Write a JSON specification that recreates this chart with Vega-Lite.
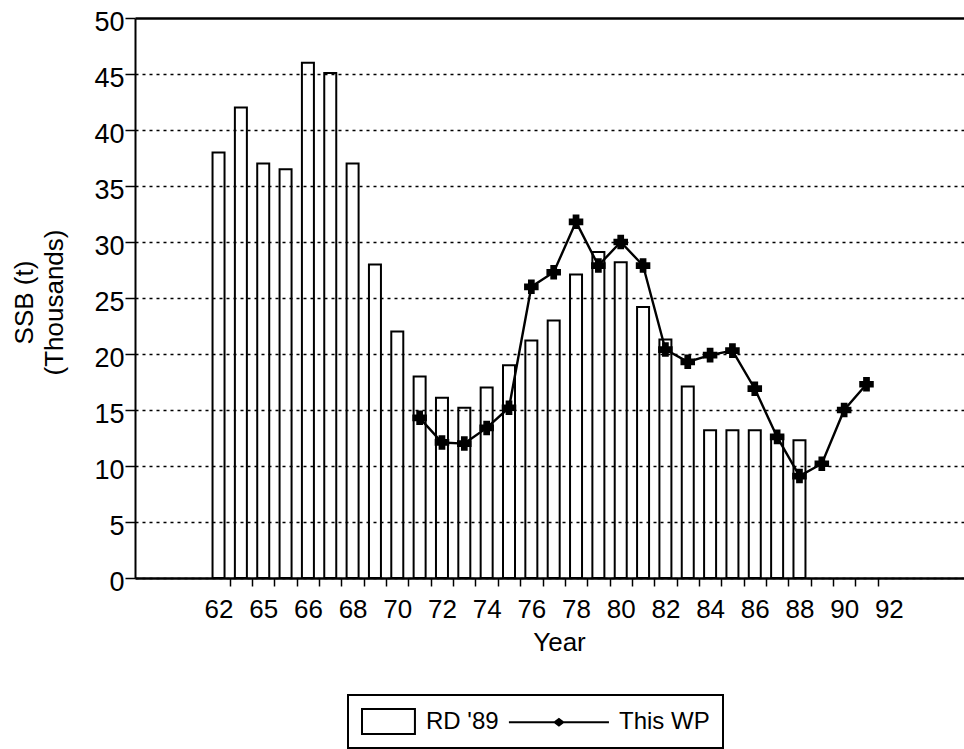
{
  "$schema": "https://vega.github.io/schema/vega-lite/v6.json",
  "width": 829,
  "height": 560,
  "autosize": {"type": "none"},
  "padding": {"left": 135, "top": 18, "right": 0, "bottom": 171},
  "background": "white",
  "config": {
    "view": {"stroke": null},
    "font": "Liberation Sans",
    "legend": {"strokeWidth": 2},
    "axis": {
      "labelColor": "black",
      "titleColor": "black",
      "domainColor": "black",
      "tickColor": "black",
      "labelFont": "Liberation Sans",
      "titleFont": "Liberation Sans",
      "titleFontWeight": "normal"
    }
  },
  "datasets": {
    "rd": [
      {"year": 62, "ssb": 38.0}, {"year": 63, "ssb": 42.0}, {"year": 64, "ssb": 37.0},
      {"year": 65, "ssb": 36.5}, {"year": 66, "ssb": 46.0}, {"year": 67, "ssb": 45.1},
      {"year": 68, "ssb": 37.0}, {"year": 69, "ssb": 28.0}, {"year": 70, "ssb": 22.0},
      {"year": 71, "ssb": 18.0}, {"year": 72, "ssb": 16.1}, {"year": 73, "ssb": 15.2},
      {"year": 74, "ssb": 17.0}, {"year": 75, "ssb": 19.0}, {"year": 76, "ssb": 21.2},
      {"year": 77, "ssb": 23.0}, {"year": 78, "ssb": 27.1}, {"year": 79, "ssb": 29.1},
      {"year": 80, "ssb": 28.2}, {"year": 81, "ssb": 24.2}, {"year": 82, "ssb": 21.3},
      {"year": 83, "ssb": 17.1}, {"year": 84, "ssb": 13.2}, {"year": 85, "ssb": 13.2},
      {"year": 86, "ssb": 13.2}, {"year": 87, "ssb": 12.7}, {"year": 88, "ssb": 12.3}
    ],
    "wp": [
      {"year": 71, "ssb": 14.3}, {"year": 72, "ssb": 12.1}, {"year": 73, "ssb": 12.0},
      {"year": 74, "ssb": 13.4}, {"year": 75, "ssb": 15.2}, {"year": 76, "ssb": 26.0},
      {"year": 77, "ssb": 27.3}, {"year": 78, "ssb": 31.8}, {"year": 79, "ssb": 27.9},
      {"year": 80, "ssb": 30.0}, {"year": 81, "ssb": 27.9}, {"year": 82, "ssb": 20.4},
      {"year": 83, "ssb": 19.3}, {"year": 84, "ssb": 19.9}, {"year": 85, "ssb": 20.3},
      {"year": 86, "ssb": 16.9}, {"year": 87, "ssb": 12.6}, {"year": 88, "ssb": 9.1},
      {"year": 89, "ssb": 10.2}, {"year": 90, "ssb": 15.0}, {"year": 91, "ssb": 17.3}
    ]
  },
  "layer": [
    {
      "data": {"name": "rd"},
      "mark": {"type": "bar", "filled": false, "stroke": "black", "strokeWidth": 2, "size": 12},
      "encoding": {
        "x": {
          "field": "year",
          "type": "quantitative",
          "scale": {"domain": [58.485, 95.14], "nice": false, "zero": false},
          "axis": {
            "values": [62, 62.5, 63.5, 64, 64.5, 65.5, 66, 66.5, 67.5, 68, 68.5, 69.5, 70, 70.5, 71.5, 72, 72.5, 73.5, 74, 74.5, 75.5, 76, 76.5, 77.5, 78, 78.5, 79.5, 80, 80.5, 81.5, 82, 82.5, 83.5, 84, 84.5, 85.5, 86, 86.5, 87.5, 88, 88.5, 89.5, 90, 90.5, 91.5, 92],
            "tickCount": 200,
            "labelExpr": "datum.value % 2 == 0 ? (datum.value == 64 ? '65' : format(datum.value, 'd')) : ''",
            "labelOverlap": false,
            "labelFlush": false,
            "labelBound": false,
            "labelFontSize": 26,
            "labelBaseline": "alphabetic",
            "labelPadding": 31,
            "tickSize": 8,
            "tickWidth": 1.5,
            "tickOpacity": {"condition": {"test": "datum.value % 1 == 0", "value": 0}, "value": 1},
            "domainWidth": 2.5,
            "grid": false,
            "title": "Year",
            "titleFontSize": 26,
            "titleX": 424,
            "titleY": 72,
            "titleAlign": "center",
            "titleBaseline": "alphabetic"
          }
        },
        "y": {
          "field": "ssb",
          "type": "quantitative",
          "scale": {"domain": [0, 50], "nice": false},
          "axis": {
            "values": [0, 5, 10, 15, 20, 25, 30, 35, 40, 45, 50],
            "tickCount": 20,
            "labelFontSize": 27,
            "labelPadding": 1,
            "labelOffset": 4,
            "tickSize": 10,
            "tickWidth": 1.5,
            "domainWidth": 2,
            "grid": true,
            "gridColor": "black",
            "gridDash": {"condition": {"test": "datum.value == 50", "value": []}, "value": [3, 4]},
            "gridWidth": {"condition": {"test": "datum.value == 50", "value": 2.5}, "value": 1.7},
            "title": ["SSB  (t)", "(Thousands)"],
            "titleFontSize": 26,
            "titleLineHeight": 30,
            "titleAngle": -90,
            "titleX": -103,
            "titleY": 284,
            "titleAlign": "center",
            "titleBaseline": "alphabetic"
          }
        }
      }
    },
    {
      "data": {"name": "wp"},
      "mark": {"type": "line", "stroke": "black", "strokeWidth": 2.4},
      "encoding": {
        "x": {"field": "year", "type": "quantitative"},
        "y": {"field": "ssb", "type": "quantitative"}
      }
    },
    {
      "data": {"name": "wp"},
      "mark": {"type": "point", "shape": "cross", "filled": true, "size": 170, "color": "black", "stroke": "black", "opacity": 1, "strokeWidth": 1.5},
      "encoding": {
        "x": {"field": "year", "type": "quantitative"},
        "y": {"field": "ssb", "type": "quantitative"}
      }
    },
    {
      "data": {"values": []},
      "mark": {"type": "point", "filled": true, "color": "black", "opacity": 1, "strokeWidth": 0},
      "encoding": {
        "shape": {
          "datum": "RD '89",
          "type": "nominal",
          "scale": {
            "domain": ["RD '89", "This WP"],
            "range": [
              "M-1,-1H3.07V1H-1Z M-0.852,-0.852V0.852H2.92V-0.852Z",
              "M-4.34,-0.08H3.07V0.08H-4.34Z M-1.075,0L-0.635,-0.33L-0.195,0L-0.635,0.33Z"
            ]
          },
          "legend": {
            "title": null,
            "orient": "none",
            "legendX": 213,
            "legendY": 677,
            "direction": "horizontal",
            "columns": 2,
            "strokeColor": "black",
            "padding": 13,
            "symbolSize": 729,
            "symbolStrokeWidth": 0,
            "symbolFillColor": "black",
            "symbolOpacity": 1,
            "labelFontSize": 24,
            "labelColor": "black",
            "labelFont": "Liberation Sans",
            "labelOffset": 38,
            "columnPadding": 9
          }
        }
      }
    }
  ]
}
